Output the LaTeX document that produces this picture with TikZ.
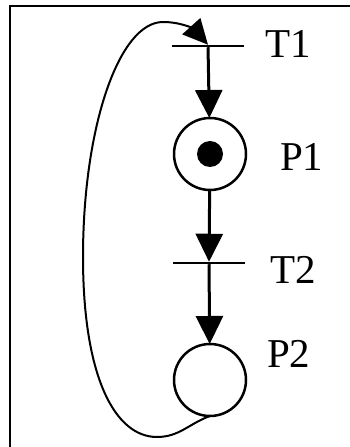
\documentclass[tikz,border=0pt]{standalone}
\usepackage{fontspec}
\setmainfont{Liberation Serif}
\usetikzlibrary{positioning,arrows.meta,calc}

\begin{document}
\begin{tikzpicture}[x=1pt, y=1pt,
    every node/.style={inner sep=0pt, outer sep=0pt},
    place/.style={draw, circle, line width=2.5pt, minimum size=72pt},
    token/.style={circle, fill=black, minimum size=26pt},
    trans/.style={rectangle, fill=black, minimum width=72pt, minimum height=2.5pt},
    lbl/.style={anchor=west, font=\fontsize{41}{45}\selectfont},
    arc/.style={-{Triangle[length=28pt,width=27pt]}, line width=3pt},
    loop/.style={-{Triangle[length=25pt,width=24pt]}, line width=2pt}]
  \useasboundingbox (0,0) rectangle (350,447);
  \draw[line width=2pt] (10,0) |- (350,441);

  \node[trans] (T1) at (208,401) {};
  \node[place] (P1) at (210,293) {};
  \node[token] (tok) at (P1) {};
  \node[trans] (T2) at (209,184) {};
  \node[place] (P2) at (210,67) {};

  \node[lbl] (T1lbl) at (265,403) {T1};
  \node[lbl] (P1lbl) at (280,290) {P1};
  \node[lbl] (T2lbl) at (270,177) {T2};
  \node[lbl] (P2lbl) at (267,93) {P2};

  \coordinate (loopbot) at (157,10);
  \coordinate (loopleft) at (83,190);
  \coordinate (looptop) at (163,425);

  \draw[arc] (T1) -- (P1);
  \draw[arc] (P1) -- (T2);
  \draw[arc] (T2) -- (P2);
  % back arc from P2 round the left to T1
  \draw[loop] (P2.south) to[out=200, in=0] (loopbot)
    .. controls (115,10) and (83,70) .. (loopleft)
    .. controls (83,320) and (119,425) .. (looptop)
    to[out=0, in=132] (T1.north);
\end{tikzpicture}
\end{document}
